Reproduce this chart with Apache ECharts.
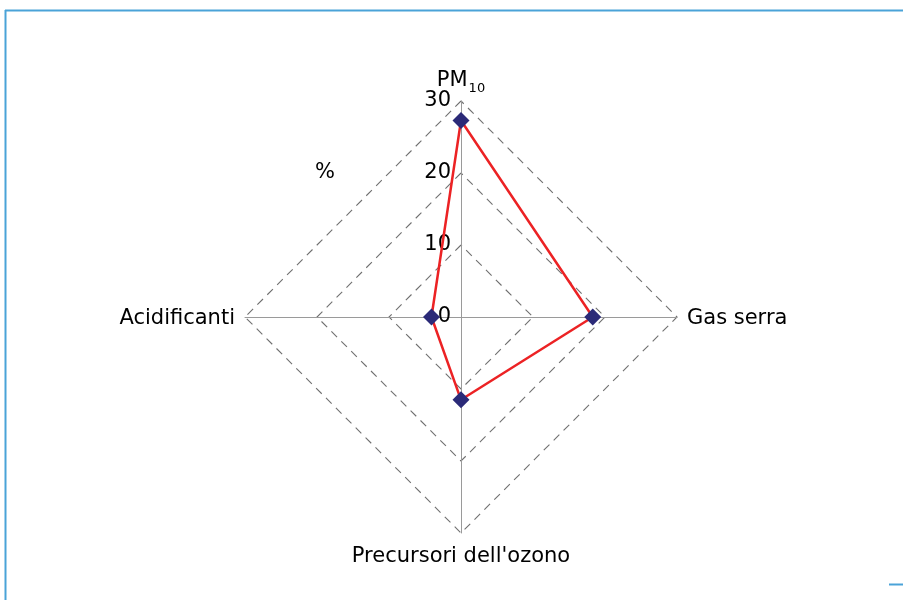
<!DOCTYPE html>
<html>
<head>
<meta charset="utf-8">
<script src="https://cdn.jsdelivr.net/npm/echarts@6/dist/echarts.min.js"></script>
<style>
html,body{margin:0;padding:0;background:#fff;}
#chart{width:903px;height:600px;}
</style>
</head>
<body>
<div id="chart"></div>
<script>
// ECharts radar indicators run counter-clockwise from the top
var indicatorNames = ['PM10', 'Acidificanti', "Precursori dell'ozono", 'Gas serra'];
var values = [27.3, 4.1, 11.5, 18.3];
var scaleMin = 0, scaleMax = 30, scaleStep = 10;
var unitLabel = '%';

var chart = echarts.init(document.getElementById('chart'));
var FONT = 'DejaVu Sans';
var center = [461, 317];
var radius = 216;

var option = {
  backgroundColor: '#fff',
  animation: false,
  textStyle: { fontFamily: FONT },
  radar: {
    center: center,
    radius: radius,
    startAngle: 90,
    shape: 'polygon',
    splitNumber: (scaleMax - scaleMin) / scaleStep,
    indicator: indicatorNames.map(function (n) { return { name: n, min: scaleMin, max: scaleMax }; }),
    nameGap: 10,
    axisName: {
      color: '#000',
      fontSize: 21,
      fontFamily: FONT,
      padding: [3, 0, 0, 0],
      formatter: function (name) {
        if (name === 'PM10') return '{m|PM}{s|10}';
        return name;
      },
      rich: {
        m: { fontSize: 21, fontFamily: FONT, color: '#000', verticalAlign: 'bottom' },
        s: { fontSize: 13, fontFamily: FONT, color: '#000', verticalAlign: 'bottom', padding: [0, 0, -4, 1] }
      }
    },
    axisLine: { lineStyle: { color: '#9a9a9a', width: 1 } },
    splitLine: { lineStyle: { color: '#707070', width: 1.1, type: [8, 6] } },
    splitArea: { show: false },
    axisTick: { show: false },
    axisLabel: { show: false }
  },
  polar: { center: center, radius: radius },
  angleAxis: {
    type: 'value', min: 0, max: 360, startAngle: 90, show: false
  },
  radiusAxis: {
    type: 'value', min: scaleMin, max: scaleMax, interval: scaleStep,
    axisLine: { show: false }, axisTick: { show: false }, splitLine: { show: false },
    axisLabel: { show: true, color: '#000', fontSize: 21, fontFamily: FONT, margin: 10, padding: [4, 0, 0, 0] }
  },
  series: [{
    type: 'radar',
    symbol: 'diamond',
    symbolSize: 17,
    itemStyle: { color: '#2b2a78' },
    lineStyle: { color: '#ec2224', width: 2.5 },
    data: [{ value: values }]
  }],
  graphic: [
    { type: 'text', left: 315, top: 162, style: { text: unitLabel, font: '21px "DejaVu Sans"', fill: '#000' } },
    { type: 'line', shape: { x1: 5, y1: 10.5, x2: 903, y2: 10.5 }, style: { stroke: '#4aa3d8', lineWidth: 2 } },
    { type: 'line', shape: { x1: 5.5, y1: 10, x2: 5.5, y2: 600 }, style: { stroke: '#4aa3d8', lineWidth: 2 } },
    { type: 'line', shape: { x1: 889, y1: 584.5, x2: 903, y2: 584.5 }, style: { stroke: '#4aa3d8', lineWidth: 2 } }
  ]
};
chart.setOption(option);
</script>
</body>
</html>
